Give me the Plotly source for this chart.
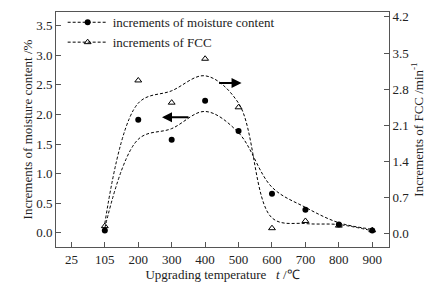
import plotly.graph_objects as go

temps = ["25", "105", "200", "300", "400", "500", "600", "700", "800", "900"]
pos = list(range(len(temps)))

# measured points (category index 1..9 -> 105..900)
pt_x = [1, 2, 3, 4, 5, 6, 7, 8, 9]
moisture = [0.04, 1.91, 1.57, 2.23, 1.72, 0.66, 0.39, 0.14, 0.04]
fcc = [0.15, 2.97, 2.54, 3.39, 2.45, 0.11, 0.25, 0.16, 0.07]

# fitted (smoothed) curves
moist_fit = [0.08, 1.58, 1.76, 2.05, 1.69, 0.77, 0.43, 0.17, 0.06]
fcc_fit = [0.2, 2.53, 2.77, 3.06, 2.53, 0.31, 0.2, 0.18, 0.06]

FONT = "Liberation Serif"
DASH = "3px,2px"

fig = go.Figure()
fig.add_trace(go.Scatter(x=pt_x, y=moist_fit, mode="lines", line=dict(color="black", width=1, dash=DASH, shape="spline", smoothing=1.0), showlegend=False, yaxis="y"))
fig.add_trace(go.Scatter(x=pt_x, y=fcc_fit, mode="lines", line=dict(color="black", width=1, dash=DASH, shape="spline", smoothing=1.0), showlegend=False, yaxis="y2"))
fig.add_trace(go.Scatter(x=pt_x, y=moisture, mode="markers", marker=dict(symbol="circle", size=6, color="black"), showlegend=False, yaxis="y"))
fig.add_trace(go.Scatter(x=pt_x, y=fcc, mode="markers", marker=dict(symbol="triangle-up-open", size=6, color="black", line=dict(width=1)), showlegend=False, yaxis="y2"))
# legend entries
fig.add_trace(go.Scatter(x=[None], y=[None], mode="lines+markers", name="increments of moisture content",
                         line=dict(color="black", width=1, dash=DASH), marker=dict(symbol="circle", size=6, color="black")))
fig.add_trace(go.Scatter(x=[None], y=[None], mode="lines+markers", name="increments of FCC",
                         line=dict(color="black", width=1, dash=DASH), marker=dict(symbol="triangle-up-open", size=6, color="black")))

axcol = "#555"
fig.update_layout(
    width=442, height=286,
    margin=dict(l=56, r=53, t=7, b=39),
    paper_bgcolor="white", plot_bgcolor="white",
    font=dict(family=FONT, size=13, color="#222"),
    showlegend=True,
    legend=dict(x=0.02, y=1.02, xanchor="left", yanchor="top", bgcolor="rgba(0,0,0,0)",
                font=dict(family=FONT, size=13), tracegroupgap=0, itemwidth=40),
    xaxis=dict(range=[-0.46, 9.5], tickmode="array", tickvals=pos, ticktext=temps, automargin=False,
               ticks="inside", ticklen=5, tickcolor=axcol, showline=True, linecolor=axcol, mirror=True,
               showgrid=False, zeroline=False,
               title=dict(text="Upgrading temperature\u00a0\u00a0\u00a0<i>t</i> /\u2103", standoff=0, font=dict(size=13))),
    yaxis=dict(range=[-0.24, 3.73], tickmode="array", tickvals=[0, 0.5, 1, 1.5, 2, 2.5, 3, 3.5],
               ticktext=["0.0", "0.5", "1.0", "1.5", "2.0", "2.5", "3.0", "3.5"], automargin=False,
               ticks="inside", ticklen=5, tickcolor=axcol, showline=True, linecolor=axcol,
               showgrid=False, zeroline=False,
               title=dict(text="Increments of moisture content /%", standoff=0, font=dict(size=13))),
    yaxis2=dict(range=[-0.254, 4.295], overlaying="y", side="right", tickmode="array",
                tickvals=[0, 0.7, 1.4, 2.1, 2.8, 3.5, 4.2], automargin=False,
                ticktext=["0.0", "0.7", "1.4", "2.1", "2.8", "3.5", "4.2"],
                ticks="inside", ticklen=5, tickcolor=axcol, showline=True, linecolor=axcol,
                showgrid=False, zeroline=False,
                title=dict(text="Increments of FCC /min<sup>-1</sup>", standoff=0, font=dict(size=13))),
)

fig.add_annotation(x=5.09, y=2.53, xref="x", yref="y", ax=-24, ay=0, showarrow=True,
                   arrowhead=2, arrowsize=1, arrowwidth=2, arrowcolor="black", text="")
fig.add_annotation(x=2.71, y=1.95, xref="x", yref="y", ax=28, ay=0, showarrow=True,
                   arrowhead=2, arrowsize=1, arrowwidth=2, arrowcolor="black", text="")

fig.write_html("out.html", config={"displayModeBar": False},
               post_script="document.body.style.margin='0';document.body.style.overflow='hidden';")
